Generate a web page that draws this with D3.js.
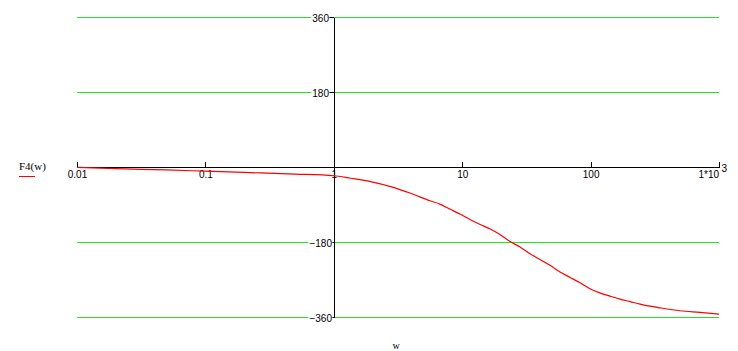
<!DOCTYPE html>
<html>
<head>
<meta charset="utf-8">
<script src="https://cdn.jsdelivr.net/npm/d3@7"></script>
<style>
  body { margin: 0; background: #fff; }
  svg { display: block; }
</style>
</head>
<body>
<script>
// frequency w (log scale) and phase F4(w) in degrees
const wValues = [0.01, 0.02, 0.05, 0.1, 0.2, 0.5, 1, 1.35, 1.93, 2.77, 3.97, 5.6, 6.7, 8, 9.6, 11.5, 13.8, 16.5,
                 19.7, 23.6, 28.2, 33.7, 40.4, 48.3, 57.8, 69.2, 82.8, 98.9, 118, 142, 169, 203, 243, 290, 347, 497, 711, 1000]
const phaseValues = [-1, -4, -7, -10, -13, -17, -21, -27, -35, -47, -63, -81, -89, -101, -113, -126, -138, -149,
                     -162, -179, -192, -208, -222, -236, -252, -265, -278, -292, -302, -310, -317, -323, -329, -334, -338, -345, -349, -353]

const xTicks = [0.01, 0.1, 1, 10, 100, 1000]
const xTickLabels = ["0.01", "0.1", "1", "10", "100", "1*10"]
const yTicks = [-360, -180, 180, 360]
const gridValues = [-360, -180, 180, 360]

const width = 738, height = 351

const svg = d3.select("body")
    .append("svg")
    .attr("width", width)
    .attr("height", height)

//Scales
const x = d3.scaleLog()
    .domain([0.01, 1000])
    .range([77, 719])

const y = d3.scaleLinear()
    .domain([-360, 360])
    .range([317, 17])

//Green grid lines
svg.append("g")
    .selectAll("line")
    .data(gridValues)
    .enter()
    .append("line")
        .attr("x1", x.range()[0])
        .attr("x2", x.range()[1])
        .attr("y1", function(d) { return Math.round(y(d)) + 0.5 })
        .attr("y2", function(d) { return Math.round(y(d)) + 0.5 })
        .attr("stroke", "#1fe61f")
        .attr("stroke-width", 1)
        .attr("shape-rendering", "crispEdges")

//x-axis along 0 deg, ticks pointing up
const xAxis = svg.append("g")
    .attr("transform", "translate(0," + Math.round(y(0)) + ")")
    .call(d3.axisBottom(x)
        .tickValues(xTicks)
        .tickFormat(function(d, i) { return xTickLabels[i] })
        .tickSizeInner(-5)
        .tickSizeOuter(0)
        .tickPadding(4))
xAxis.select(".domain").attr("shape-rendering", "crispEdges")
xAxis.selectAll("line").attr("shape-rendering", "crispEdges")
xAxis.selectAll("text")
    .style("font-family", "'Liberation Sans', Arial, sans-serif")
    .style("font-size", "10px")
    .attr("fill", "#000")

//the 1*10^3 label sits to the left of its tick with a raised 3
const lastTick = xAxis.selectAll(".tick").filter(function(d) { return d === 1000 })
lastTick.select("text")
    .attr("text-anchor", "end")
    .attr("x", -0.5)
lastTick.append("text")
    .text("3")
    .attr("x", 2)
    .attr("y", 4)
    .attr("dy", "0.05em")
    .attr("text-anchor", "start")
    .attr("fill", "#000")
    .style("font-family", "'Liberation Sans', Arial, sans-serif")
    .style("font-size", "10px")

//y-axis crossing at w = 1
const yAxis = svg.append("g")
    .attr("transform", "translate(" + Math.round(x(1)) + ",0)")
    .call(d3.axisLeft(y)
        .tickValues(yTicks)
        .tickFormat(function(d) { return d < 0 ? "\u2212" + Math.abs(d) : d })
        .tickSizeInner(5)
        .tickSizeOuter(0)
        .tickPadding(0))
yAxis.select(".domain").attr("shape-rendering", "crispEdges")
yAxis.selectAll("line").attr("shape-rendering", "crispEdges")
yAxis.selectAll("text")
    .style("font-family", "'Liberation Sans', Arial, sans-serif")
    .style("font-size", "10px")
    .attr("fill", "#000")
    .attr("dy", "0.45em")
    .attr("x", function(d) { return d < 0 ? -2 : -5 })

//white box behind the y labels so the grid stops at them
yAxis.selectAll(".tick").each(function() {
    const t = d3.select(this).select("text")
    const b = t.node().getBBox()
    d3.select(this).insert("rect", "text")
        .attr("x", b.x - 1)
        .attr("y", b.y)
        .attr("width", b.width + 1)
        .attr("height", b.height)
        .attr("fill", "#fff")
})

//The phase curve
const line = d3.line()
    .x(function(d, i) { return x(wValues[i]) })
    .y(function(d) { return y(d) })
    .curve(d3.curveMonotoneX)

svg.append("path")
    .datum(phaseValues)
    .attr("d", line)
    .attr("fill", "none")
    .attr("stroke", "#ff0000")
    .attr("stroke-width", 1.2)

//Legend on the left
svg.append("text")
    .text("F4(w)")
    .attr("x", 19)
    .attr("y", 170)
    .style("font-family", "'Liberation Serif', 'Times New Roman', serif")
    .style("font-size", "11px")

svg.append("line")
    .attr("x1", 19)
    .attr("x2", 35)
    .attr("y1", 176.5)
    .attr("y2", 176.5)
    .attr("stroke", "#ff0000")
    .attr("stroke-width", 1)

//x-axis title
svg.append("text")
    .text("w")
    .attr("x", 396)
    .attr("y", 349)
    .attr("text-anchor", "middle")
    .style("font-family", "'Liberation Serif', 'Times New Roman', serif")
    .style("font-size", "10px")
</script>
</body>
</html>
